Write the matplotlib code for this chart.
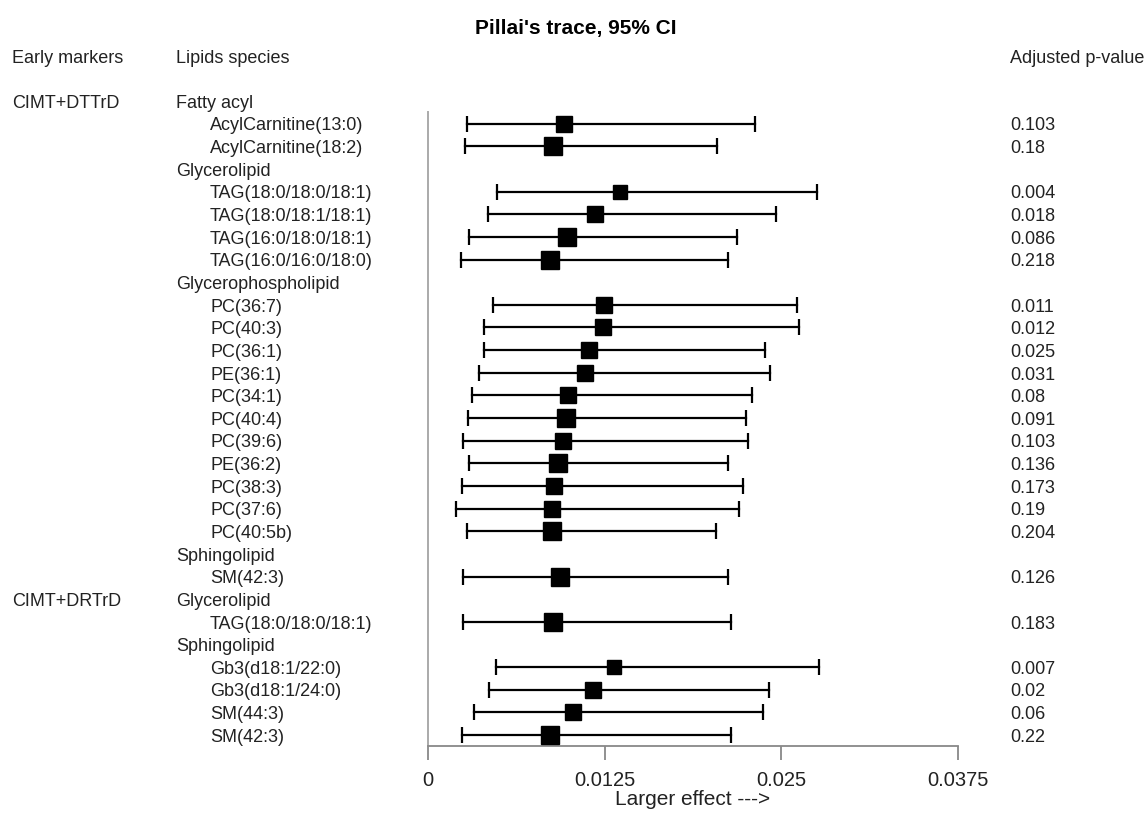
import numpy as np
import matplotlib
matplotlib.use("Agg")
import matplotlib.pyplot as plt
from matplotlib.transforms import blended_transform_factory

plt.rcParams['font.family'] = ['Liberation Sans', 'DejaVu Sans']

# data
markers = ["CIMT+DTTrD"] * 18 + ["CIMT+DRTrD"] * 5
lipid_class = (["Fatty acyl"] * 2 + ["Glycerolipid"] * 4 + ["Glycerophospholipid"] * 11
               + ["Sphingolipid"] + ["Glycerolipid"] + ["Sphingolipid"] * 4)
species = ["AcylCarnitine(13:0)", "AcylCarnitine(18:2)",
           "TAG(18:0/18:0/18:1)", "TAG(18:0/18:1/18:1)", "TAG(16:0/18:0/18:1)", "TAG(16:0/16:0/18:0)",
           "PC(36:7)", "PC(40:3)", "PC(36:1)", "PE(36:1)", "PC(34:1)", "PC(40:4)", "PC(39:6)",
           "PE(36:2)", "PC(38:3)", "PC(37:6)", "PC(40:5b)",
           "SM(42:3)",
           "TAG(18:0/18:0/18:1)",
           "Gb3(d18:1/22:0)", "Gb3(d18:1/24:0)", "SM(44:3)", "SM(42:3)"]
estimate = [0.00962, 0.00887,
            0.01361, 0.01181, 0.00983, 0.00863,
            0.01245, 0.01240, 0.01139, 0.01113, 0.00990, 0.00974, 0.00957,
            0.00922, 0.00894, 0.00880, 0.00875,
            0.00934,
            0.00887,
            0.01314, 0.01170, 0.01028, 0.00863]
lower = [0.00274, 0.00260,
         0.00488, 0.00427, 0.00288, 0.00236,
         0.00458, 0.00398, 0.00396, 0.00361, 0.00313, 0.00281, 0.00248,
         0.00292, 0.00243, 0.00196, 0.00274,
         0.00250,
         0.00250,
         0.00481, 0.00432, 0.00328, 0.00243]
upper = [0.02314, 0.02047,
         0.02750, 0.02462, 0.02187, 0.02123,
         0.02608, 0.02627, 0.02386, 0.02418, 0.02292, 0.02250, 0.02266,
         0.02125, 0.02227, 0.02201, 0.02040,
         0.02125,
         0.02144,
         0.02764, 0.02410, 0.02373, 0.02144]
pvals = ["0.103", "0.18",
         "0.004", "0.018", "0.086", "0.218",
         "0.011", "0.012", "0.025", "0.031", "0.08", "0.091", "0.103",
         "0.136", "0.173", "0.19", "0.204",
         "0.126",
         "0.183",
         "0.007", "0.02", "0.06", "0.22"]
xticks = [0, 0.0125, 0.025, 0.0375]
xtick_labels = ["0", "0.0125", "0.025", "0.0375"]

W, H = 1145, 814
fig = plt.figure(figsize=(W / 100, H / 100), dpi=100)
ax = fig.add_axes([428 / W, (H - 746) / H, (958 - 428) / W, (746 - 21.8) / H])
ax.set_xlim(0, 0.0375)
ax.set_ylim(28.486, -3.5)

txt = '#222222'
fs = 13
dy = 0.1  # small nudge so text sits on the row like the reference
tf = blended_transform_factory(fig.transFigure, ax.transData)

# build rows: class header rows get inserted when class or group changes
row = 0
prev_m, prev_c = None, None
for i in range(len(species)):
    if markers[i] != prev_m or lipid_class[i] != prev_c:
        if markers[i] != prev_m:
            ax.text(12 / W, row + dy, markers[i], transform=tf, ha='left', va='center',
                    fontsize=fs, color=txt)
        ax.text(176 / W, row + dy, lipid_class[i], transform=tf, ha='left', va='center',
                fontsize=fs, color=txt)
        row += 1
        prev_m, prev_c = markers[i], lipid_class[i]
    ax.text(210 / W, row + dy, species[i], transform=tf, ha='left', va='center',
            fontsize=fs, color=txt)
    ax.text(1010 / W, row + dy, pvals[i], transform=tf, ha='left', va='center',
            fontsize=fs, color=txt)
    ax.plot([lower[i], upper[i]], [row, row], color='black', lw=1.6, zorder=2)
    ax.plot([lower[i], upper[i]], [row, row], ls='none', marker='|', ms=11.5,
            mew=1.6, color='black', zorder=2)
    # box size inversely proportional to CI width
    side_px = 0.335 / (upper[i] - lower[i])
    ax.plot(estimate[i], row, marker='s', ms=side_px * 0.72, color='black',
            mec='black', zorder=3)
    row += 1

# headers
ax.text(12 / W, -2 + dy, "Early markers", transform=tf, ha='left', va='center', fontsize=fs, color=txt)
ax.text(176 / W, -2 + dy, "Lipids species", transform=tf, ha='left', va='center', fontsize=fs, color=txt)
ax.text(1010 / W, -2 + dy, "Adjusted p-value", transform=tf, ha='left', va='center', fontsize=fs, color=txt)
ax.text(576 / W, -3.2, "Pillai's trace, 95% CI", transform=tf, ha='center', va='center',
        fontsize=15, fontweight='bold', color='black')

# zero line and axis
ax.plot([0, 0], [0.5, 28.486], color='#aaaaaa', lw=1.4, clip_on=False)
for s in ['top', 'right', 'left']:
    ax.spines[s].set_visible(False)
ax.spines['bottom'].set_color('#888888')
ax.spines['bottom'].set_linewidth(1.3)
ax.set_yticks([])
ax.set_xticks(xticks)
ax.set_xticklabels(xtick_labels, fontsize=14.5, color=txt)
ax.tick_params(axis='x', length=10, width=1.3, color='#888888', pad=8)
ax.set_xlabel("Larger effect --->", fontsize=15, color=txt, labelpad=0)

fig.savefig("out.png", dpi=100)
